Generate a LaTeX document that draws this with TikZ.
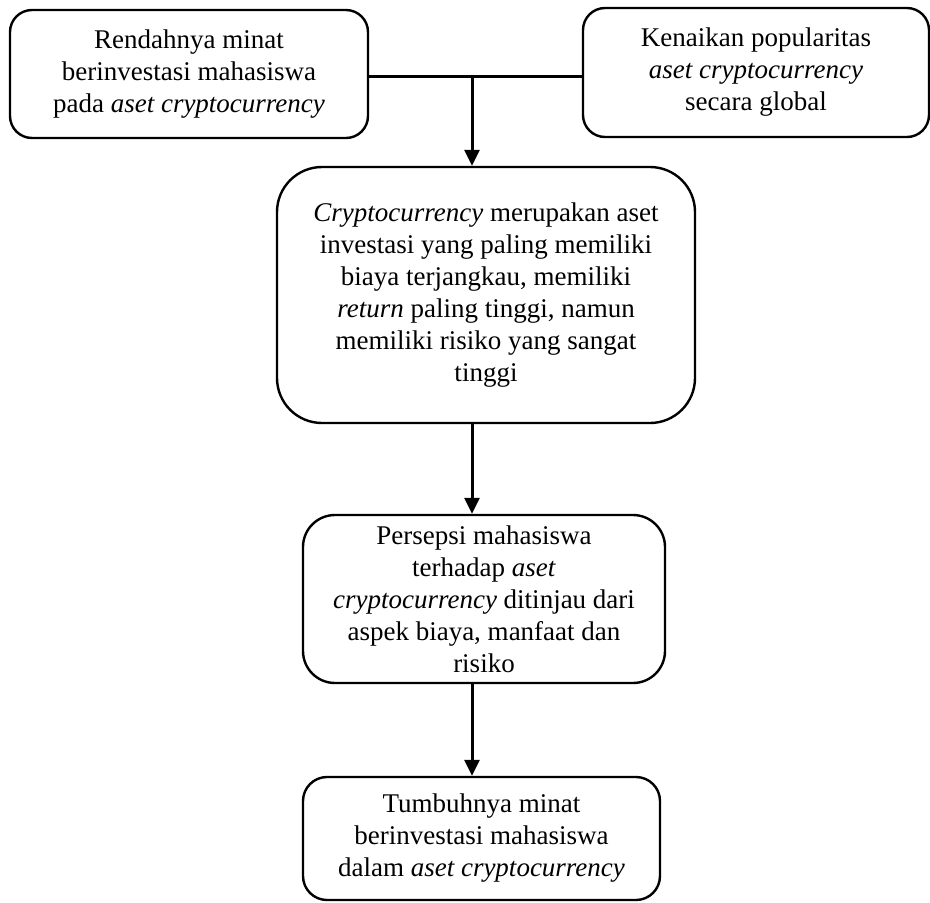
\documentclass[tikz,border=0pt]{standalone}
\usepackage{fontspec}
\setmainfont{Liberation Serif}
\usetikzlibrary{arrows.meta}

\begin{document}
\begin{tikzpicture}[x=1pt, y=-1pt, >={Triangle[length=16pt, width=15pt]},
    kotak/.style={draw, line width=2.4pt, align=center, inner sep=0pt,
        font=\fontsize{27}{32}\selectfont},
    garis/.style={line width=3pt}]
    \useasboundingbox (0,0) rectangle (930,903);

    % Top boxes
    \node[kotak, rounded corners=22pt, minimum width=358pt, minimum height=128pt] (rendah) at (189,74)
        {Rendahnya minat\\ berinvestasi mahasiswa\\ pada \textit{aset cryptocurrency}};
    \node[kotak, rounded corners=22pt, minimum width=346pt, minimum height=129pt] (kenaikan) at (756,72.5)
        {Kenaikan popularitas\\ \textit{aset cryptocurrency}\\ secara global};

    % Middle and bottom boxes
    \node[kotak, rounded corners=45pt, minimum width=418pt, minimum height=256pt] (crypto) at (486,295)
        {\textit{Cryptocurrency} merupakan aset\\ investasi yang paling memiliki\\ biaya terjangkau, memiliki\\
         \textit{return} paling tinggi, namun\\ memiliki risiko yang sangat\\ tinggi};
    \node[kotak, rounded corners=32pt, minimum width=362pt, minimum height=168pt] (persepsi) at (484,599)
        {Persepsi mahasiswa\\ terhadap \textit{aset}\\ \textit{cryptocurrency} ditinjau dari\\ aspek biaya, manfaat dan\\ risiko};
    \node[kotak, rounded corners=24pt, minimum width=357pt, minimum height=123pt] (tumbuh) at (481.5,838.5)
        {Tumbuhnya minat\\ berinvestasi mahasiswa\\ dalam \textit{aset cryptocurrency}};

    % Connectors
    \coordinate (gabung) at (472,76);
    \draw[garis] (rendah.east |- gabung) -- (kenaikan.west |- gabung);
    \draw[garis, ->] (gabung) -- (gabung |- crypto.north);
    \draw[garis, ->] (crypto.south -| gabung) -- (persepsi.north -| gabung);
    \draw[garis, ->] (persepsi.south -| gabung) -- (tumbuh.north -| gabung);
\end{tikzpicture}
\end{document}
